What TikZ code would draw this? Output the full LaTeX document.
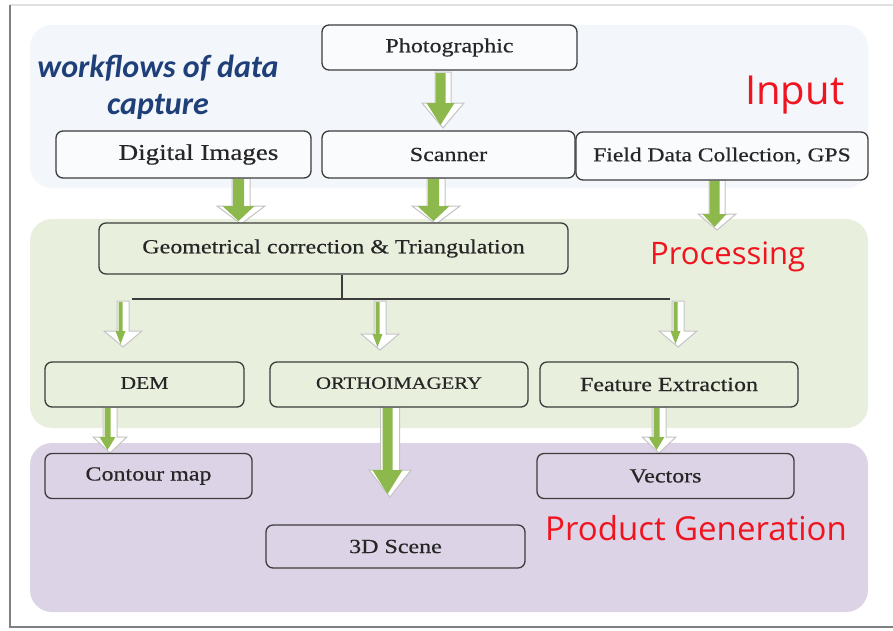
\documentclass[tikz,border=0pt]{standalone}
\usepackage{fontspec}
\setmainfont{Liberation Serif}
\newfontfamily\boxfont[FakeStretch=1.2,FakeBold=0.5]{Liberation Serif}
\newfontfamily\titlefont{Carlito}
\newfontfamily\labfont{Open Sans}
\usetikzlibrary{calc}
\definecolor{inbg}{HTML}{F3F6FB}
\definecolor{procbg}{HTML}{E9EFDD}
\definecolor{prodbg}{HTML}{DDD3E6}
\definecolor{boxline}{HTML}{3C3C3C}
\definecolor{agreen}{HTML}{8CB84C}
\definecolor{aedge}{HTML}{C4C4C4}
\definecolor{tblue}{HTML}{1F3F78}
\definecolor{lred}{HTML}{F0141E}
\tikzset{
  panel/.style={rounded corners=22pt},
  fbox/.style={draw=boxline, line width=1.3pt, rounded corners=7pt, inner sep=0pt,
    text=black!85, font=\boxfont\fontsize{20}{24}\selectfont},
  tree/.style={draw=boxline, line width=1.3pt},
  arrowout/.style={fill=white, draw=aedge, line width=1pt, line join=miter},
  arrowin/.style={fill=agreen},
  redlab/.style={text=lred, inner sep=0pt, anchor=base west},
  titlelab/.style={text=tblue, inner sep=0pt, anchor=base,
    font=\titlefont\bfseries\itshape\fontsize{32}{38}\selectfont}
}
% #1 start, #2 tip, #3 shaft half, #4 head half, #5 head length, #6 green shaft half, #7 green head half
\newcommand\blockarr[7]{%
  \draw[arrowout] let \p1=(#1), \p2=(#2) in
    (\x1-#3pt,\y1) -- (\x1-#3pt,\y2+#5pt) -- (\x1-#4pt,\y2+#5pt) -- (\x1,\y2)
    -- (\x1+#4pt,\y2+#5pt) -- (\x1+#3pt,\y2+#5pt) -- (\x1+#3pt,\y1) -- cycle;
  \fill[arrowin] let \p1=(#1), \p2=(#2) in
    (\x1-#6pt-2.5pt,\y1-1pt) -- (\x1-#6pt-2.5pt,\y2+#5pt) -- (\x1-#7pt-2.5pt,\y2+#5pt)
    -- (\x1-2.5pt,\y2+3pt) -- (\x1+#7pt-2.5pt,\y2+#5pt) -- (\x1+#6pt-2.5pt,\y2+#5pt)
    -- (\x1+#6pt-2.5pt,\y1-1pt) -- cycle;
}
\begin{document}
\begin{tikzpicture}[x=1pt,y=-1pt]
\useasboundingbox (0,0) rectangle (893,630);
\fill[white] (0,0) rectangle (893,630);
% outer frame
\draw[draw=black!12, line width=1.5pt] (10,5) -- (893,5);
\draw[draw=black!50, line width=2pt] (10,5) -- (10,627) -- (893,627);
% panels
\fill[inbg, panel] (30,25) rectangle (868,188);
\fill[procbg, panel] (30,219) rectangle (868,428);
\fill[prodbg, panel] (30,443) rectangle (868,612);

% title and section labels
\node[titlelab] (title1) at (158,77) {workflows of data};
\node[titlelab] (title2) at (158,114) {capture};
\node[redlab, font=\labfont\fontsize{40}{44}\selectfont] (linput) at (745,104) {Input};
\node[redlab, font=\labfont\fontsize{31}{36}\selectfont] (lproc) at (650,264) {Processing};
\node[redlab, font=\labfont\fontsize{33}{38}\selectfont] (lprod) at (545,540) {Product Generation};

% arrow end points
\coordinate (a1s) at (443,72);  \coordinate (a1e) at (443,128);
\coordinate (a2s) at (241,178); \coordinate (a2e) at (241,224);
\coordinate (a3s) at (436,178); \coordinate (a3e) at (436,224);
\coordinate (a4s) at (717,180); \coordinate (a4e) at (717,230);
\coordinate (a5s) at (123,301); \coordinate (a5e) at (123,347);
\coordinate (a6s) at (380,301); \coordinate (a6e) at (380,350);
\coordinate (a7s) at (678,301); \coordinate (a7e) at (678,347);
\coordinate (a8s) at (110,407); \coordinate (a8e) at (110,453);
\coordinate (a9s) at (390,407); \coordinate (a9e) at (390,497);
\coordinate (a10s) at (659,407); \coordinate (a10e) at (659,453);

\blockarr{a1s}{a1e}{8}{21}{25}{5}{14}
\blockarr{a2s}{a2e}{9}{24}{18}{5.5}{16}
\blockarr{a3s}{a3e}{9}{24}{18}{5.5}{16}
\blockarr{a4s}{a4e}{8}{19}{16}{5}{12}
\blockarr{a5s}{a5e}{6}{19}{16}{2}{5}
\blockarr{a6s}{a6e}{6}{19}{16}{2}{5}
\blockarr{a7s}{a7e}{6}{19}{16}{2}{5}
\blockarr{a8s}{a8e}{7}{17}{16}{3}{8}
\blockarr{a9s}{a9e}{9.5}{21}{27}{5}{15}
\blockarr{a10s}{a10e}{7}{17}{16}{3}{8}

% boxes
\node[fbox, fill=white!60!inbg, minimum width=255pt, minimum height=45pt] (photo) at (449.5,47.5) {Photographic};
\node[fbox, fill=white!60!inbg, minimum width=255pt, minimum height=47pt] (digital) at (183.5,154.5) {\fontsize{22.5}{26}\selectfont\hspace*{30pt}Digital Images};
\node[fbox, fill=white!60!inbg, minimum width=253pt, minimum height=47pt] (scanner) at (448.5,154.5) {Scanner};
\node[fbox, fill=white!60!inbg, minimum width=292pt, minimum height=48pt] (field) at (722,156) {\fontsize{19.6}{24}\selectfont Field Data Collection, GPS};
\node[fbox, fill=procbg, minimum width=469pt, minimum height=51pt] (geo) at (333.5,248.5) {Geometrical correction \& Triangulation};
\node[fbox, fill=procbg, minimum width=199pt, minimum height=45pt] (dem) at (144.5,384.5) {\fontsize{18}{22}\selectfont\raisebox{3pt}{DEM}};
\node[fbox, fill=procbg, minimum width=258pt, minimum height=45pt] (ortho) at (399,384.5) {\fontsize{17.3}{22}\selectfont\raisebox{3pt}{ORTHOIMAGERY}};
\node[fbox, fill=procbg, minimum width=258pt, minimum height=45pt] (feat) at (669,384.5) {Feature Extraction};
\node[fbox, fill=prodbg, minimum width=207pt, minimum height=45pt] (contour) at (148.5,476) {Contour map};
\node[fbox, fill=prodbg, minimum width=257pt, minimum height=45pt] (vectors) at (665.5,476) {Vectors};
\node[fbox, fill=prodbg, minimum width=259pt, minimum height=43pt] (scene) at (395.5,546.5) {3D Scene};

% tree connector
\coordinate (tj) at (342,299);
\coordinate (tl) at (132,299);
\coordinate (tr) at (670,299);
\draw[tree] (tj |- geo.south) -- (tj);
\draw[tree] (tl) -- (tr);
\end{tikzpicture}
\end{document}
